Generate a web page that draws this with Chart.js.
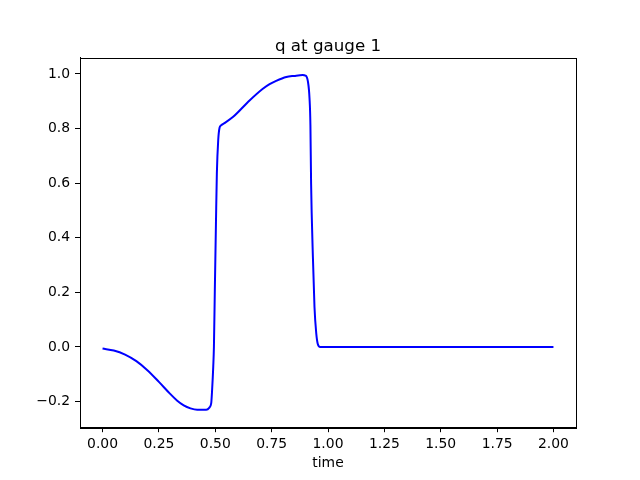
<!DOCTYPE html>
<html>
<head>
<meta charset="utf-8">
<script src="https://cdn.jsdelivr.net/npm/chart.js@4/dist/chart.umd.min.js"></script>
<style>
    html, body { margin: 0; padding: 0; background: #fff; }
    #wrap { width: 640px; height: 480px; }
</style>
</head>
<body>
<div id="wrap"><canvas id="gaugeChart" width="640" height="480"></canvas></div>
<script>
// q at gauge 1
const times = [0, 0.05, 0.1, 0.15, 0.2, 0.25, 0.3, 0.33, 0.36, 0.39, 0.42,
    0.46, 0.474, 0.482, 0.486, 0.491, 0.494, 0.498, 0.503, 0.507, 0.513, 0.519,
    0.526, 0.541, 0.578, 0.652, 0.711, 0.741, 0.77, 0.815, 0.85, 0.888, 0.9,
    0.911, 0.918, 0.922, 0.925, 0.933, 0.94, 0.948, 0.955, 0.965, 1.0, 1.5, 2.0];
const qValues = [-0.006, -0.013, -0.028, -0.052, -0.086, -0.128, -0.172, -0.196,
    -0.214, -0.225, -0.23, -0.23, -0.222, -0.206, -0.157, -0.072, 0.0, 0.207,
    0.452, 0.635, 0.757, 0.803, 0.812, 0.82, 0.842, 0.903, 0.946, 0.963, 0.975,
    0.989, 0.993, 0.996, 0.994, 0.972, 0.911, 0.813, 0.6, 0.33, 0.147, 0.049,
    0.01, 0.0, 0.0, 0.0, 0.0];
const xTicks = [0, 0.25, 0.5, 0.75, 1.0, 1.25, 1.5, 1.75, 2.0];
const yTicks = [-0.2, 0, 0.2, 0.4, 0.6, 0.8, 1.0];
const chartTitle = 'q at gauge 1';
const xLabel = 'time';

const FONT = 'DejaVu Sans';
const TICK_SIZE = 13.9;

// matplotlib style tick text (unicode minus)
function fmt(v, digits) {
    const s = Math.abs(v).toFixed(digits);
    return v < -1e-9 ? '\u2212' + s : s;
}

// frame + title, drawn like matplotlib does
const framePlugin = {
    id: 'frame',
    afterDraw(chart) {
        const { ctx, chartArea: a } = chart;
        ctx.save();
        ctx.strokeStyle = '#000';
        ctx.lineWidth = 1;
        ctx.strokeRect(Math.round(a.left) + 0.5, Math.round(a.top) + 0.5,
            Math.round(a.right - a.left), Math.round(a.bottom - a.top));
        ctx.fillStyle = '#000';
        ctx.font = '16.7px "' + FONT + '"';
        ctx.textAlign = 'center';
        ctx.textBaseline = 'alphabetic';
        ctx.fillText(chartTitle, (a.left + a.right) / 2, a.top - 7);
        ctx.restore();
    }
};

new Chart(document.getElementById('gaugeChart'), {
    type: 'line',
    data: {
        datasets: [{
            data: times.map((t, i) => ({ x: t, y: qValues[i] })),
            borderColor: '#0000ff',
            borderWidth: 2,
            pointRadius: 0,
            cubicInterpolationMode: 'monotone',
            fill: false
        }]
    },
    options: {
        responsive: false,
        animation: false,
        layout: { padding: { left: 0, right: 64, top: 57.6, bottom: 0 } },
        plugins: {
            legend: { display: false },
            tooltip: { enabled: false }
        },
        scales: {
            x: {
                type: 'linear',
                min: -0.1,
                max: 2.1,
                afterFit: (s) => { s.height = 52.8; },
                afterBuildTicks: (s) => { s.ticks = xTicks.map(v => ({ value: v })); },
                ticks: {
                    color: '#000',
                    padding: 4,
                    maxRotation: 0,
                    font: { family: FONT, size: TICK_SIZE },
                    callback: (v) => fmt(v, 2)
                },
                grid: { drawOnChartArea: false, drawTicks: true, tickLength: 5, color: '#000' },
                border: { display: true, color: '#000' },
                title: {
                    display: true,
                    text: xLabel,
                    color: '#000',
                    font: { family: FONT, size: TICK_SIZE },
                    padding: { top: 0, bottom: 8 }
                }
            },
            y: {
                type: 'linear',
                min: -0.294,
                max: 1.06,
                afterFit: (s) => { s.width = 80; },
                afterBuildTicks: (s) => { s.ticks = yTicks.map(v => ({ value: v })); },
                ticks: {
                    color: '#000',
                    padding: 5,
                    font: { family: FONT, size: TICK_SIZE },
                    callback: (v) => fmt(v, 1)
                },
                grid: { drawOnChartArea: false, drawTicks: true, tickLength: 5, color: '#000' },
                border: { display: true, color: '#000' }
            }
        }
    },
    plugins: [framePlugin]
});
</script>
</body>
</html>
